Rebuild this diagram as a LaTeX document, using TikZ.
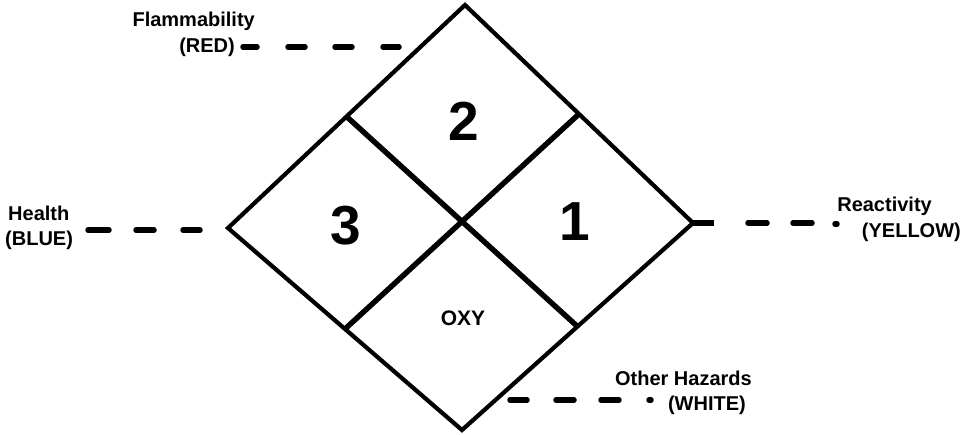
\documentclass[tikz,border=0pt]{standalone}
\usepackage{fontspec}
\setmainfont{Liberation Sans}
\begin{document}
\begin{tikzpicture}[x=1pt,y=-1pt,
  outer/.style={line width=4.2pt,line join=miter},
  inner/.style={line width=5.4pt},
  dsh/.style={line width=5.5pt,line cap=round},
  lbl/.style={font=\bfseries\fontsize{20}{22}\selectfont,inner sep=0pt,align=center},
  num/.style={font=\bfseries\fontsize{55}{57}\selectfont,inner sep=0pt},
  tag/.style={font=\bfseries\fontsize{21}{23}\selectfont,inner sep=0pt}]
\useasboundingbox (0,0) rectangle (961,434);
% diamond corners
\coordinate (T) at (465,5);
\coordinate (R) at (693,223);
\coordinate (B) at (462,430);
\coordinate (L) at (228,228);
\draw[outer] (T) -- (R) -- (B) -- (L) -- cycle;
\coordinate (mTL) at (346.5,116.5);
\coordinate (mBR) at (577.5,326.5);
\coordinate (mTR) at (579,114);
\coordinate (mBL) at (345,329);
\draw[inner] (mTL) -- (mBR);
\draw[inner] (mTR) -- (mBL);
% numbers
\node[num] (n2) at (464,121) {2};
\node[num] (n3) at (346,226) {3};
\node[num] (n1) at (575,222) {1};
\node[tag] (oxy) at (463,318) {OXY};
% labels
\node[lbl,anchor=east] (flam1) at (255,21) {Flammability};
\node[lbl,anchor=east] (flam2) at (235,47) {(RED)};
\node[lbl,anchor=west] (hea1) at (8,213) {Health};
\node[lbl,anchor=west] (hea2) at (5,240) {(BLUE)};
\node[lbl,anchor=east] (rea1) at (932,206) {Reactivity};
\node[lbl,anchor=east] (rea2) at (961,232) {(YELLOW)};
\node[lbl,anchor=east] (oth1) at (752,378) {Other Hazards};
\node[lbl,anchor=east] (oth2) at (746,405) {(WHITE)};
% flammability leader
\draw[dsh] (243,47) -- (257,47);
\draw[dsh] (288,47) -- (305,47);
\draw[dsh] (335,47) -- (352,47);
\draw[dsh] (383,47) -- (399,47);
% health leader
\draw[dsh] (88,230) -- (109,230);
\draw[dsh] (136,230) -- (154,230);
\draw[dsh] (183,230) -- (200,230);
% reactivity leader
\draw[line width=5.5pt,line cap=butt] (R) -- (714,223);
\draw[dsh] (748,223) -- (767,223);
\draw[dsh] (793,223) -- (812,223);
\draw[dsh] (835,224) -- (837,224);
% other hazards leader
\draw[dsh] (510,400) -- (527,400);
\draw[dsh] (556,400) -- (574,400);
\draw[dsh] (601,400) -- (619,400);
\draw[dsh] (649,400) -- (651,400);
\end{tikzpicture}
\end{document}
